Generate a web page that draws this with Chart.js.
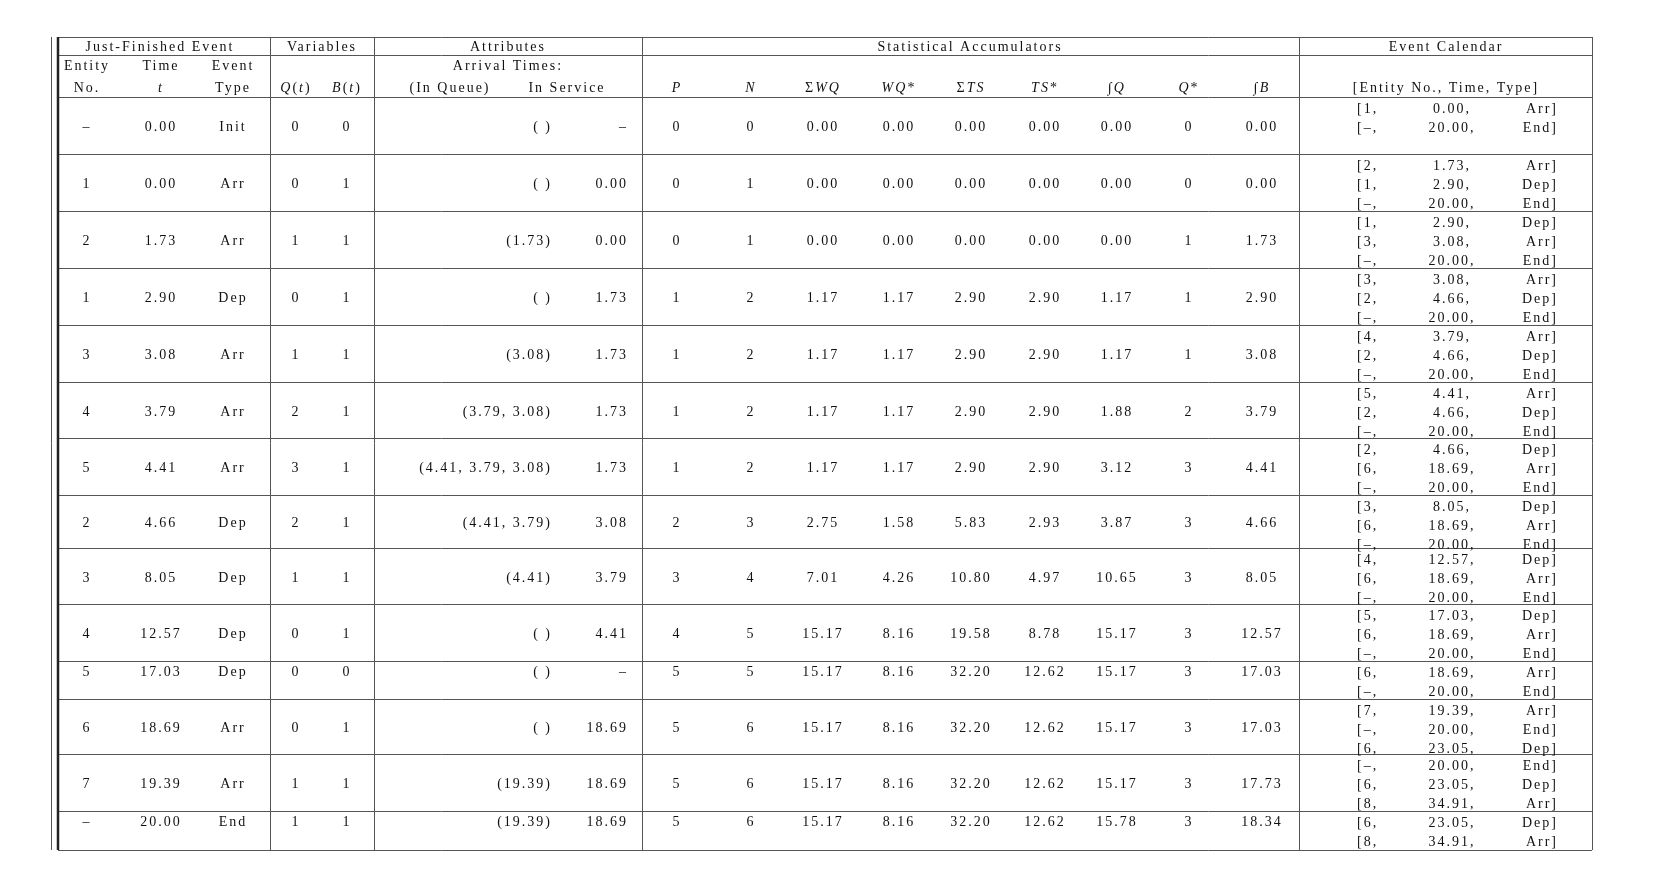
<!DOCTYPE html>
<html>
<head>
<meta charset="utf-8">
<script src="https://cdn.jsdelivr.net/npm/chart.js@4"></script>
<style>
  html, body { margin: 0; padding: 0; background: #fff; }
  #wrap { width: 1660px; height: 884px; position: relative; }
</style>
</head>
<body>
<div id="wrap"><canvas id="tbl"></canvas></div>
<script>
// table content, one array per column
const entityNo = ["–", "1", "2", "1", "3", "4", "5", "2", "3", "4", "5", "6", "7", "–"];
const eventTime = ["0.00", "0.00", "1.73", "2.90", "3.08", "3.79", "4.41", "4.66", "8.05", "12.57", "17.03", "18.69", "19.39", "20.00"];
const eventType = ["Init", "Arr", "Arr", "Dep", "Arr", "Arr", "Arr", "Dep", "Dep", "Dep", "Dep", "Arr", "Arr", "End"];
const qt = ["0", "0", "1", "0", "1", "2", "3", "2", "1", "0", "0", "0", "1", "1"];
const bt = ["0", "1", "1", "1", "1", "1", "1", "1", "1", "1", "0", "1", "1", "1"];
const inQueue = ["( )", "( )", "(1.73)", "( )", "(3.08)", "(3.79, 3.08)", "(4.41, 3.79, 3.08)", "(4.41, 3.79)", "(4.41)", "( )", "( )", "( )", "(19.39)", "(19.39)"];
const inService = ["–", "0.00", "0.00", "1.73", "1.73", "1.73", "1.73", "3.08", "3.79", "4.41", "–", "18.69", "18.69", "18.69"];
const accP = ["0", "0", "0", "1", "1", "1", "1", "2", "3", "4", "5", "5", "5", "5"];
const accN = ["0", "1", "1", "2", "2", "2", "2", "3", "4", "5", "5", "6", "6", "6"];
const sumWQ = ["0.00", "0.00", "0.00", "1.17", "1.17", "1.17", "1.17", "2.75", "7.01", "15.17", "15.17", "15.17", "15.17", "15.17"];
const maxWQ = ["0.00", "0.00", "0.00", "1.17", "1.17", "1.17", "1.17", "1.58", "4.26", "8.16", "8.16", "8.16", "8.16", "8.16"];
const sumTS = ["0.00", "0.00", "0.00", "2.90", "2.90", "2.90", "2.90", "5.83", "10.80", "19.58", "32.20", "32.20", "32.20", "32.20"];
const maxTS = ["0.00", "0.00", "0.00", "2.90", "2.90", "2.90", "2.90", "2.93", "4.97", "8.78", "12.62", "12.62", "12.62", "12.62"];
const intQ = ["0.00", "0.00", "0.00", "1.17", "1.17", "1.88", "3.12", "3.87", "10.65", "15.17", "15.17", "15.17", "15.17", "15.78"];
const maxQ = ["0", "0", "1", "1", "1", "2", "3", "3", "3", "3", "3", "3", "3", "3"];
const intB = ["0.00", "0.00", "1.73", "2.90", "3.08", "3.79", "4.41", "4.66", "8.05", "12.57", "17.03", "17.03", "17.73", "18.34"];
const calendar = [
  [["1", "0.00", "Arr"], ["–", "20.00", "End"]],
  [["2", "1.73", "Arr"], ["1", "2.90", "Dep"], ["–", "20.00", "End"]],
  [["1", "2.90", "Dep"], ["3", "3.08", "Arr"], ["–", "20.00", "End"]],
  [["3", "3.08", "Arr"], ["2", "4.66", "Dep"], ["–", "20.00", "End"]],
  [["4", "3.79", "Arr"], ["2", "4.66", "Dep"], ["–", "20.00", "End"]],
  [["5", "4.41", "Arr"], ["2", "4.66", "Dep"], ["–", "20.00", "End"]],
  [["2", "4.66", "Dep"], ["6", "18.69", "Arr"], ["–", "20.00", "End"]],
  [["3", "8.05", "Dep"], ["6", "18.69", "Arr"], ["–", "20.00", "End"]],
  [["4", "12.57", "Dep"], ["6", "18.69", "Arr"], ["–", "20.00", "End"]],
  [["5", "17.03", "Dep"], ["6", "18.69", "Arr"], ["–", "20.00", "End"]],
  [["6", "18.69", "Arr"], ["–", "20.00", "End"]],
  [["7", "19.39", "Arr"], ["–", "20.00", "End"], ["6", "23.05", "Dep"]],
  [["–", "20.00", "End"], ["6", "23.05", "Dep"], ["8", "34.91", "Arr"]],
  [["6", "23.05", "Dep"], ["8", "34.91", "Arr"]]
];

// layout in scale units (scales map 1:1 to the 1660x884 frame)
const rowEdges = [97, 154, 211, 268, 325, 382, 438, 495, 548, 604, 661, 699, 754, 811, 850];
const vLines = [270, 374, 642, 1299];
const tableTop = 37, headSplit = 55, left = 58, right = 1592;

const columns = [
  { data: entityNo, x: 87, align: "center" },
  { data: eventTime, x: 161, align: "center" },
  { data: eventType, x: 233, align: "center" },
  { data: qt, x: 296, align: "center" },
  { data: bt, x: 347, align: "center" },
  { data: inQueue, x: 550, align: "right" },
  { data: inService, x: 626, align: "right" },
  { data: accP, x: 677, align: "center" },
  { data: accN, x: 751, align: "center" },
  { data: sumWQ, x: 823, align: "center" },
  { data: maxWQ, x: 899, align: "center" },
  { data: sumTS, x: 971, align: "center" },
  { data: maxTS, x: 1045, align: "center" },
  { data: intQ, x: 1117, align: "center" },
  { data: maxQ, x: 1189, align: "center" },
  { data: intB, x: 1262, align: "center" }
];

const FONT = '"Liberation Serif", "DejaVu Serif", serif';

function put(ctx, text, px, py, align, italic) {
  ctx.font = (italic ? "italic " : "") + "14px " + FONT;
  ctx.textAlign = align;
  ctx.textBaseline = "middle";
  ctx.fillText(text, align === "right" ? px + 2 : px, py);
}

// draw a label made of upright/italic pieces, centred on px
function putMixed(ctx, parts, px, py) {
  let w = 0;
  parts.forEach(([t, it]) => {
    ctx.font = (it ? "italic " : "") + "14px " + FONT;
    w += ctx.measureText(t).width;
  });
  let cx = px - w / 2;
  parts.forEach(([t, it]) => {
    ctx.font = (it ? "italic " : "") + "14px " + FONT;
    ctx.textAlign = "left";
    ctx.textBaseline = "middle";
    ctx.fillText(t, cx, py);
    cx += ctx.measureText(t).width;
  });
}

const tablePlugin = {
  id: "tablePlugin",
  afterDraw(chart) {
    const ctx = chart.ctx;
    const sx = chart.scales.x, sy = chart.scales.y;
    const X = (v) => sx.getPixelForValue(v);
    const Y = (v) => sy.getPixelForValue(v);
    ctx.save();
    ctx.letterSpacing = "2px";
    ctx.fillStyle = "#111";

    // rules
    ctx.strokeStyle = "#555";
    ctx.lineWidth = 1;
    const hl = [tableTop, headSplit].concat(rowEdges);
    hl.forEach((v) => {
      ctx.beginPath();
      ctx.moveTo(X(left), Y(v) + 0.5);
      ctx.lineTo(X(right), Y(v) + 0.5);
      ctx.stroke();
    });
    vLines.concat([right]).forEach((v) => {
      ctx.beginPath();
      ctx.moveTo(X(v) + 0.5, Y(tableTop));
      ctx.lineTo(X(v) + 0.5, Y(rowEdges[rowEdges.length - 1]));
      ctx.stroke();
    });
    ctx.beginPath();
    ctx.moveTo(X(51) + 0.5, Y(tableTop));
    ctx.lineTo(X(51) + 0.5, Y(850));
    ctx.stroke();
    ctx.lineWidth = 2.5;
    ctx.strokeStyle = "#222";
    ctx.beginPath();
    ctx.moveTo(X(left), Y(tableTop));
    ctx.lineTo(X(left), Y(850));
    ctx.stroke();

    // group headings
    put(ctx, "Just-Finished Event", X(160), Y(47), "center");
    put(ctx, "Variables", X(322), Y(47), "center");
    put(ctx, "Attributes", X(508), Y(47), "center");
    put(ctx, "Statistical Accumulators", X(970), Y(47), "center");
    put(ctx, "Event Calendar", X(1446), Y(47), "center");

    // column headings
    const h1 = Y(66), h2 = Y(88);
    put(ctx, "Entity", X(87), h1, "center");
    put(ctx, "No.", X(87), h2, "center");
    put(ctx, "Time", X(161), h1, "center");
    put(ctx, "t", X(161), h2, "center", true);
    put(ctx, "Event", X(233), h1, "center");
    put(ctx, "Type", X(233), h2, "center");
    putMixed(ctx, [["Q", true], ["(", false], ["t", true], [")", false]], X(296), h2);
    putMixed(ctx, [["B", true], ["(", false], ["t", true], [")", false]], X(347), h2);
    put(ctx, "Arrival Times:", X(508), h1, "center");
    put(ctx, "(In Queue)", X(450), h2, "center");
    put(ctx, "In Service", X(567), h2, "center");
    putMixed(ctx, [["P", true]], X(677), h2);
    putMixed(ctx, [["N", true]], X(751), h2);
    putMixed(ctx, [["Σ", false], ["WQ", true]], X(823), h2);
    putMixed(ctx, [["WQ", true], ["*", false]], X(899), h2);
    putMixed(ctx, [["Σ", false], ["TS", true]], X(971), h2);
    putMixed(ctx, [["TS", true], ["*", false]], X(1045), h2);
    putMixed(ctx, [["∫", false], ["Q", true]], X(1117), h2);
    putMixed(ctx, [["Q", true], ["*", false]], X(1189), h2);
    putMixed(ctx, [["∫", false], ["B", true]], X(1262), h2);
    put(ctx, "[Entity No., Time, Type]", X(1446), h2, "center");

    // body
    for (let r = 0; r < entityNo.length; r++) {
      const top = rowEdges[r], bot = rowEdges[r + 1];
      const yv = bot - top < 45 ? top + 11 : (top + bot) / 2 + 2;
      columns.forEach((c) => put(ctx, c.data[r], X(c.x), Y(yv), c.align));
      calendar[r].forEach((e, i) => {
        const yc = Y(top + 12 + i * 19);
        put(ctx, "[" + e[0] + ",", X(1357), yc, "left");
        put(ctx, e[1] + ",", X(1452), yc, "center");
        put(ctx, e[2] + "]", X(1556), yc, "right");
      });
    }
    ctx.restore();
  }
};

new Chart(document.getElementById("tbl").getContext("2d"), {
  type: "scatter",
  data: { datasets: [{ data: [], pointRadius: 0 }] },
  options: {
    responsive: true,
    maintainAspectRatio: false,
    animation: false,
    layout: { padding: 0 },
    scales: {
      x: { type: "linear", min: 0, max: 1660, display: false },
      y: { type: "linear", min: 0, max: 884, reverse: true, display: false }
    },
    plugins: { legend: { display: false }, tooltip: { enabled: false } }
  },
  plugins: [tablePlugin]
});
</script>
</body>
</html>
